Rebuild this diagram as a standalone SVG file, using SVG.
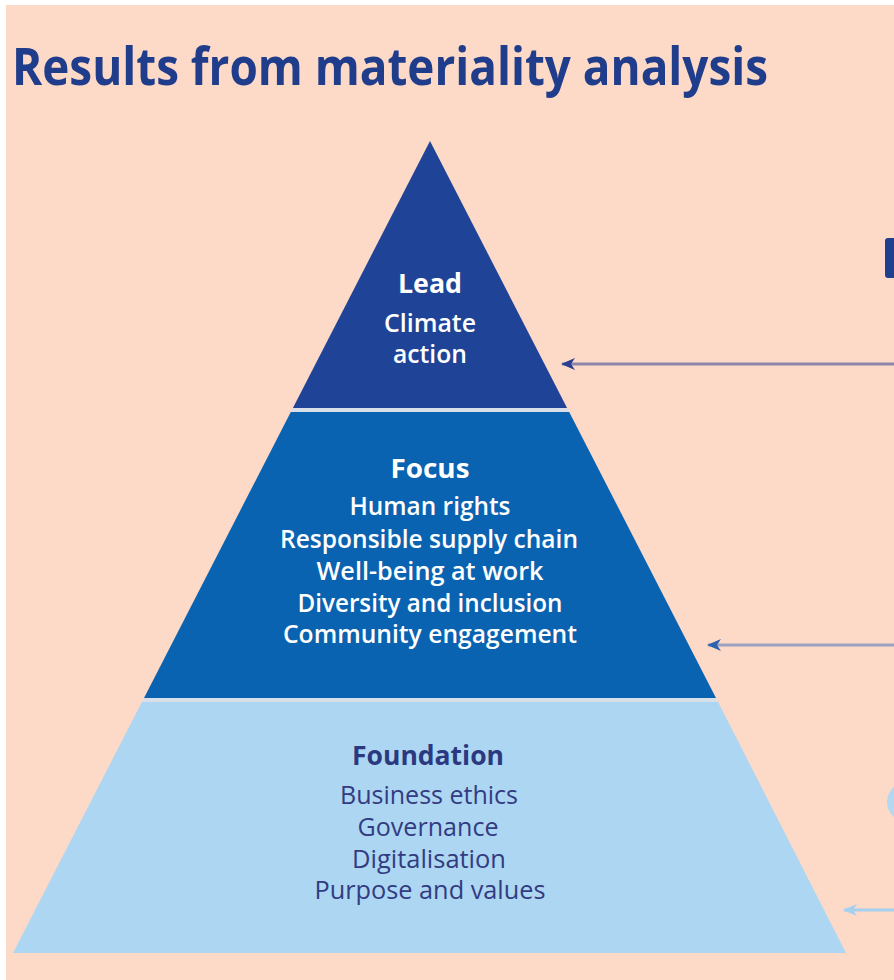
<svg xmlns="http://www.w3.org/2000/svg" width="894" height="980" viewBox="0 0 894 980">
  <defs>
    <style>
      .title { font-family: "Open Sans", "Noto Sans", "Liberation Sans", sans-serif; font-weight: 700; font-size: 52px; fill: #203d8c; }
      .head { font-family: "Open Sans", "Noto Sans", "Liberation Sans", sans-serif; font-weight: 700; font-size: 26px; text-anchor: middle; }
      .item { font-family: "Open Sans", "Noto Sans", "Liberation Sans", sans-serif; font-weight: 600; font-size: 25px; text-anchor: middle; }
      .item.dark { font-weight: 400; fill: #323c82; }
      .light { fill: #ffffff; }
      .dark { fill: #2b3a80; }
      .gap { fill: #d9dfe8; }
    </style>
    <marker id="headNavy" viewBox="0 0 14 12" refX="13" refY="6" markerWidth="14" markerHeight="12" markerUnits="userSpaceOnUse" orient="auto">
      <path d="M14,6 L0,0 L4,6 L0,12 Z" fill="#2a3f8f"/>
    </marker>
    <marker id="headBlue" viewBox="0 0 14 12" refX="13" refY="6" markerWidth="14" markerHeight="12" markerUnits="userSpaceOnUse" orient="auto">
      <path d="M14,6 L0,0 L4,6 L0,12 Z" fill="#2f62ae"/>
    </marker>
    <marker id="headLight" viewBox="0 0 14 12" refX="13" refY="6" markerWidth="14" markerHeight="12" markerUnits="userSpaceOnUse" orient="auto">
      <path d="M14,6 L0,0 L4,6 L0,12 Z" fill="#a6d0ef"/>
    </marker>
  </defs>

  <!-- page -->
  <rect x="0" y="0" width="894" height="980" fill="#ffffff"/>
  <rect x="6" y="5" width="888" height="975" fill="#fdd9c8"/>

  <text class="title" x="12" y="85" textLength="756" lengthAdjust="spacingAndGlyphs">Results from materiality analysis</text>

  <!-- separators between tiers -->
  <polygon class="gap" points="292.9,408 567.1,408 569.2,412 290.8,412"/>
  <polygon class="gap" points="144,698 716,698 718.1,702 141.9,702"/>

  <g id="lead">
    <polygon points="430,141 567.1,408 292.9,408" fill="#1f4497"/>
    <text class="head light" x="430" y="293" textLength="64" lengthAdjust="spacingAndGlyphs">Lead</text>
    <text class="item light" x="430" y="332" textLength="92" lengthAdjust="spacingAndGlyphs">Climate</text>
    <text class="item light" x="430" y="363" textLength="74" lengthAdjust="spacingAndGlyphs">action</text>
  </g>

  <g id="focus">
    <polygon points="290.8,412 569.2,412 716,698 144,698" fill="#0a63b0"/>
    <text class="head light" x="430" y="478" textLength="79" lengthAdjust="spacingAndGlyphs">Focus</text>
    <text class="item light" x="430" y="515" textLength="161" lengthAdjust="spacingAndGlyphs">Human rights</text>
    <text class="item light" x="429" y="548" textLength="298" lengthAdjust="spacingAndGlyphs">Responsible supply chain</text>
    <text class="item light" x="430" y="580" textLength="227" lengthAdjust="spacingAndGlyphs">Well-being at work</text>
    <text class="item light" x="430" y="612" textLength="265" lengthAdjust="spacingAndGlyphs">Diversity and inclusion</text>
    <text class="item light" x="430" y="643" textLength="294" lengthAdjust="spacingAndGlyphs">Community engagement</text>
  </g>

  <g id="foundation">
    <polygon points="141.9,702 718.1,702 846,953 13,953" fill="#add6f2"/>
    <text class="head dark" x="428" y="765" textLength="152" lengthAdjust="spacingAndGlyphs">Foundation</text>
    <text class="item dark" x="429" y="804" textLength="178" lengthAdjust="spacingAndGlyphs">Business ethics</text>
    <text class="item dark" x="428" y="836" textLength="141" lengthAdjust="spacingAndGlyphs">Governance</text>
    <text class="item dark" x="429" y="868" textLength="154" lengthAdjust="spacingAndGlyphs">Digitalisation</text>
    <text class="item dark" x="430" y="899" textLength="231" lengthAdjust="spacingAndGlyphs">Purpose and values</text>
  </g>

  <!-- shapes cut off at the right edge -->
  <g id="edge-marks">
    <rect x="885" y="238" width="20" height="40" rx="3" fill="#1f3f8f"/>
    <circle cx="906.5" cy="802" r="19.5" fill="#b4d8f0"/>
  </g>

  <g id="connectors">
    <line x1="894" y1="364" x2="562" y2="364" stroke="#8d86a8" stroke-width="3" marker-end="url(#headNavy)"/>
    <line x1="894" y1="645" x2="708" y2="645" stroke="#9ba1c0" stroke-width="3" marker-end="url(#headBlue)"/>
    <line x1="894" y1="910" x2="844" y2="910" stroke="#a6d0ef" stroke-width="3" marker-end="url(#headLight)"/>
  </g>
</svg>
